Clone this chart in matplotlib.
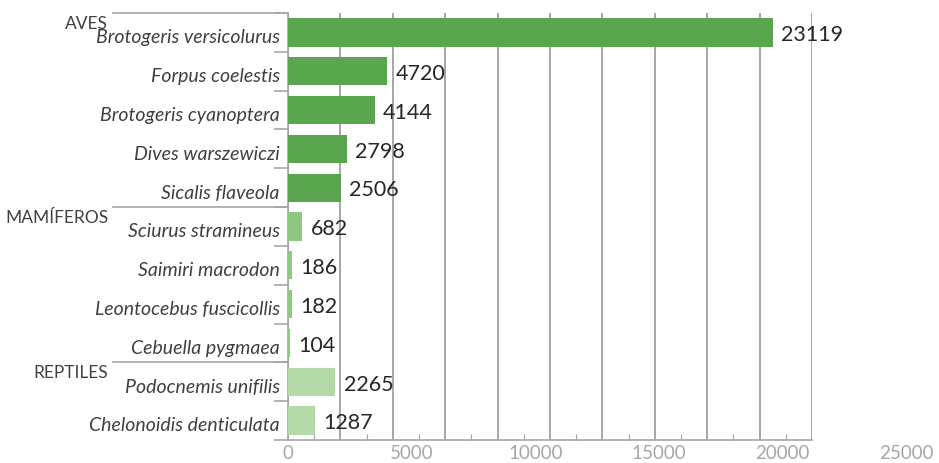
import numpy as np
import matplotlib.pyplot as plt
from matplotlib.ticker import MultipleLocator, FixedLocator

# species counts, grouped by class
species = ["Brotogeris versicolurus", "Forpus coelestis", "Brotogeris cyanoptera",
           "Dives warszewiczi", "Sicalis flaveola",
           "Sciurus stramineus", "Saimiri macrodon", "Leontocebus fuscicollis",
           "Cebuella pygmaea",
           "Podocnemis unifilis", "Chelonoidis denticulata"]
counts = [23119, 4720, 4144, 2798, 2506, 682, 186, 182, 104, 2265, 1287]
groups = ["AVES", "MAMÍFEROS", "REPTILES"]
group_sizes = [5, 4, 2]
group_colors = ["#5aa64f", "#8cc882", "#b3d9a9"]
xtick_values = [0, 5000, 10000, 15000, 20000, 25000]

plt.rcParams['font.family'] = ['Lato', 'DejaVu Sans']

fig = plt.figure(figsize=(9.39, 4.63), dpi=100)
ax = fig.add_axes([288 / 939, 1 - 440 / 463, 524 / 939, 427 / 463])

colors = []
for c, n in zip(group_colors, group_sizes):
    colors += [c] * n

y = np.arange(len(species))
ax.barh(y, counts, height=0.73, color=colors, zorder=3)

for yi, v in zip(y, counts):
    ax.annotate(str(v), (v, yi), xytext=(6, -2), textcoords='offset points',
                va='center', ha='left', fontsize=15.5, color='#262626', zorder=4)

ax.set_xlim(0, 25000)
ax.set_ylim(len(species) - 0.5, -0.5)

grid_col = '#a6a6a6'
for s in ['top', 'right']:
    ax.spines[s].set_visible(False)
for s in ['left', 'bottom']:
    ax.spines[s].set_color(grid_col)
    ax.spines[s].set_linewidth(1.2)

# vertical gridlines every 2500, small inward ticks halfway between them
ax.xaxis.set_minor_locator(MultipleLocator(2500))
ax.grid(axis='x', which='minor', color=grid_col, linewidth=1.4, zorder=1)
ax.xaxis.set_major_locator(FixedLocator(np.arange(1250, 25000, 2500)))
ax.tick_params(axis='x', which='major', direction='in', length=4, color=grid_col,
               labelbottom=False)
ax.tick_params(axis='x', which='minor', length=0)

for v in xtick_values:
    ax.text(v * 1.18, -0.032, str(v), transform=ax.get_xaxis_transform(),
            ha='center', va='center', fontsize=13.5, color='#a6a6a6', clip_on=False)

# category axis: boundary ticks as majors, species names as minors
ax.yaxis.set_major_locator(FixedLocator(np.arange(-0.5, len(species), 1.0)))
ax.yaxis.set_minor_locator(FixedLocator(y + 0.1))
ax.set_yticklabels([], minor=False)
ax.set_yticklabels(species, minor=True, style='italic', fontsize=14, color='#404040')
ax.tick_params(axis='y', which='major', direction='out', length=10, color=grid_col,
               width=1.2)
ax.tick_params(axis='y', which='minor', length=0, pad=6)

# group separators and group names
start = 0
trans = ax.get_yaxis_transform()
for g, n in zip(groups, group_sizes):
    ax.plot([-0.334, 0], [start - 0.5, start - 0.5], transform=trans,
            color=grid_col, linewidth=1.2, clip_on=False)
    ax.text(-0.343, start - 0.22, g, transform=trans, ha='right', va='center',
            fontsize=12.5, color='#404040')
    start += n

fig.savefig('out.png', dpi=100)
